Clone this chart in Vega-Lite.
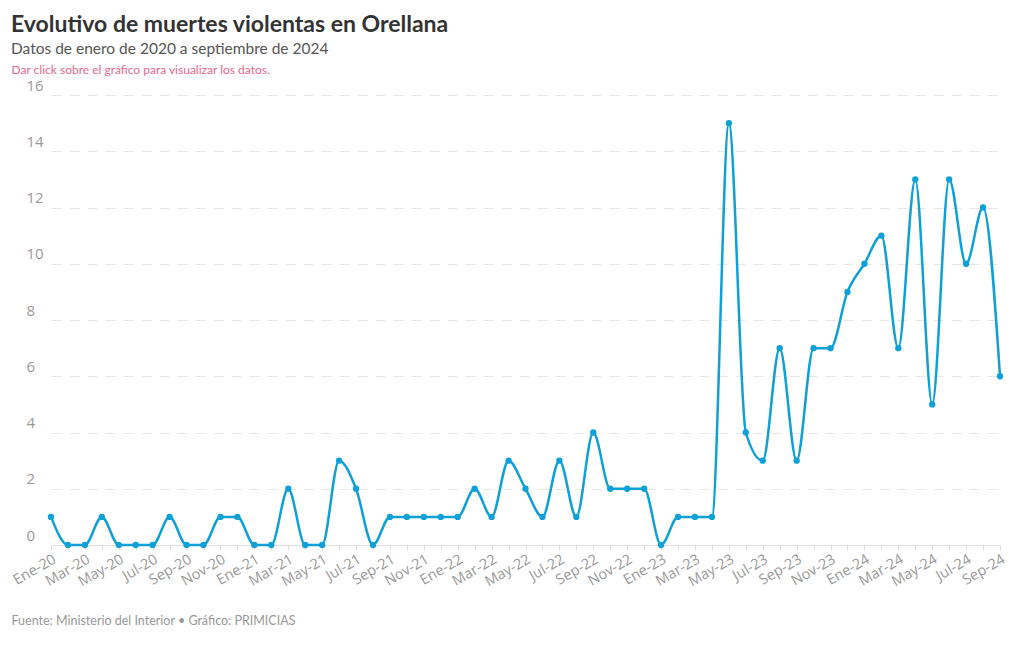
{
  "$schema": "https://vega.github.io/schema/vega-lite/v6.json",
  "width": 980,
  "height": 450,
  "autosize": {"type": "none"},
  "padding": {"left": 20, "top": 95, "right": 20, "bottom": 105},
  "background": "white",
  "title": {
    "text": "Evolutivo de muertes violentas en Orellana",
    "subtitle": "Datos de enero de 2020 a septiembre de 2024",
    "anchor": "start",
    "frame": "group",
    "dx": -9,
    "offset": 6,
    "font": "Lato",
    "fontSize": 23,
    "fontWeight": "bold",
    "color": "#333333",
    "subtitleFont": "Lato",
    "subtitleFontSize": 15.5,
    "subtitleColor": "#555555",
    "subtitlePadding": 5
  },
  "data": {
    "values": [
      {"mes": "Ene-20", "muertes": 1}, {"mes": "Feb-20", "muertes": 0}, {"mes": "Mar-20", "muertes": 0},
      {"mes": "Abr-20", "muertes": 1}, {"mes": "May-20", "muertes": 0}, {"mes": "Jun-20", "muertes": 0},
      {"mes": "Jul-20", "muertes": 0}, {"mes": "Ago-20", "muertes": 1}, {"mes": "Sep-20", "muertes": 0},
      {"mes": "Oct-20", "muertes": 0}, {"mes": "Nov-20", "muertes": 1}, {"mes": "Dic-20", "muertes": 1},
      {"mes": "Ene-21", "muertes": 0}, {"mes": "Feb-21", "muertes": 0}, {"mes": "Mar-21", "muertes": 2},
      {"mes": "Abr-21", "muertes": 0}, {"mes": "May-21", "muertes": 0}, {"mes": "Jun-21", "muertes": 3},
      {"mes": "Jul-21", "muertes": 2}, {"mes": "Ago-21", "muertes": 0}, {"mes": "Sep-21", "muertes": 1},
      {"mes": "Oct-21", "muertes": 1}, {"mes": "Nov-21", "muertes": 1}, {"mes": "Dic-21", "muertes": 1},
      {"mes": "Ene-22", "muertes": 1}, {"mes": "Feb-22", "muertes": 2}, {"mes": "Mar-22", "muertes": 1},
      {"mes": "Abr-22", "muertes": 3}, {"mes": "May-22", "muertes": 2}, {"mes": "Jun-22", "muertes": 1},
      {"mes": "Jul-22", "muertes": 3}, {"mes": "Ago-22", "muertes": 1}, {"mes": "Sep-22", "muertes": 4},
      {"mes": "Oct-22", "muertes": 2}, {"mes": "Nov-22", "muertes": 2}, {"mes": "Dic-22", "muertes": 2},
      {"mes": "Ene-23", "muertes": 0}, {"mes": "Feb-23", "muertes": 1}, {"mes": "Mar-23", "muertes": 1},
      {"mes": "Abr-23", "muertes": 1}, {"mes": "May-23", "muertes": 15}, {"mes": "Jun-23", "muertes": 4},
      {"mes": "Jul-23", "muertes": 3}, {"mes": "Ago-23", "muertes": 7}, {"mes": "Sep-23", "muertes": 3},
      {"mes": "Oct-23", "muertes": 7}, {"mes": "Nov-23", "muertes": 7}, {"mes": "Dic-23", "muertes": 9},
      {"mes": "Ene-24", "muertes": 10}, {"mes": "Feb-24", "muertes": 11}, {"mes": "Mar-24", "muertes": 7},
      {"mes": "Abr-24", "muertes": 13}, {"mes": "May-24", "muertes": 5}, {"mes": "Jun-24", "muertes": 13},
      {"mes": "Jul-24", "muertes": 10}, {"mes": "Ago-24", "muertes": 12}, {"mes": "Sep-24", "muertes": 6}
    ]
  },
  "mark": {
    "type": "line",
    "interpolate": "monotone",
    "color": "#0ea0d6",
    "strokeWidth": 2.5,
    "point": {"filled": true, "size": 40, "color": "#0ea0d6"}
  },
  "encoding": {
    "x": {
      "field": "mes",
      "type": "ordinal",
      "sort": null,
      "scale": {"type": "point", "range": [31, 980], "padding": 0},
      "axis": {
        "title": "Fuente: Ministerio del Interior • Gráfico: PRIMICIAS",
        "titleX": -9,
        "titleY": 79,
        "titleAlign": "left",
        "titleAnchor": "start",
        "titleBaseline": "alphabetic",
        "titleColor": "#999999",
        "titleFont": "Lato",
        "titleFontSize": 12.5,
        "titleFontWeight": "normal",
        "labelExpr": "indexof(['Ene','Mar','May','Jul','Sep','Nov'], slice(datum.label,0,3)) >= 0 ? datum.label : ''",
        "labelAngle": -30,
        "labelAlign": "right",
        "labelBaseline": "top",
        "labelPadding": 2,
        "labelColor": "#999999",
        "labelFont": "Open Sans",
        "labelFontSize": 14.5,
        "labelOverlap": false,
        "labelBound": false,
        "ticks": true,
        "tickSize": 5,
        "tickColor": "#e0e0e0",
        "domainColor": "#e0e0e0",
        "grid": false
      }
    },
    "y": {
      "field": "muertes",
      "type": "quantitative",
      "scale": {"domain": [0, 16], "nice": false},
      "axis": {
        "values": [0, 2, 4, 6, 8, 10, 12, 14, 16],
        "title": "Dar click sobre el gráfico para visualizar los datos.",
        "titleAngle": 0,
        "titleX": -9,
        "titleY": -22,
        "titleAlign": "left",
        "titleBaseline": "alphabetic",
        "titleColor": "#e8688a",
        "titleFont": "Lato",
        "titleFontSize": 12,
        "titleFontWeight": "normal",
        "domain": false,
        "ticks": false,
        "tickSize": 0,
        "labelAlign": "left",
        "labelBaseline": "alphabetic",
        "labelPadding": -6,
        "labelOffset": -5,
        "labelColor": "#999999",
        "labelFont": "Open Sans",
        "labelFontSize": 15,
        "grid": true,
        "gridColor": "#e6e6e6",
        "gridDash": [10, 8]
      }
    }
  },
  "config": {"view": {"stroke": null}}
}
